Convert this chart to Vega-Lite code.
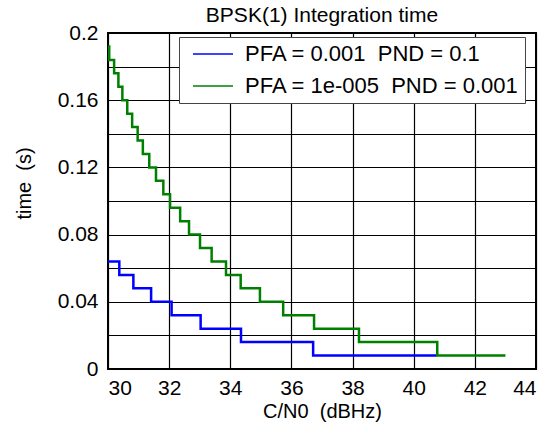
{
  "$schema": "https://vega.github.io/schema/vega-lite/v6.json",
  "width": 428,
  "height": 336,
  "autosize": {"type": "none"},
  "padding": {"left": 108, "top": 33, "right": 24, "bottom": 59},
  "background": "white",
  "title": {"text": "BPSK(1) Integration time", "font": "Liberation Sans", "fontSize": 21, "fontWeight": "normal", "color": "black", "offset": 0, "dy": 4, "anchor": "middle"},
  "config": {
    "font": "Liberation Sans",
    "view": {"stroke": "black", "strokeWidth": 2}
  },
  "data": {
    "values": [
      {"series": "PFA = 0.001\u00a0 PND = 0.1", "cn0": 30.0, "time": 0.064},
      {"series": "PFA = 0.001\u00a0 PND = 0.1", "cn0": 30.37, "time": 0.056},
      {"series": "PFA = 0.001\u00a0 PND = 0.1", "cn0": 30.83, "time": 0.048},
      {"series": "PFA = 0.001\u00a0 PND = 0.1", "cn0": 31.41, "time": 0.040},
      {"series": "PFA = 0.001\u00a0 PND = 0.1", "cn0": 32.08, "time": 0.032},
      {"series": "PFA = 0.001\u00a0 PND = 0.1", "cn0": 33.03, "time": 0.024},
      {"series": "PFA = 0.001\u00a0 PND = 0.1", "cn0": 34.35, "time": 0.016},
      {"series": "PFA = 0.001\u00a0 PND = 0.1", "cn0": 36.71, "time": 0.008},
      {"series": "PFA = 0.001\u00a0 PND = 0.1", "cn0": 40.75, "time": 0.008},
      {"series": "PFA = 1e-005\u00a0 PND = 0.001", "cn0": 30.0, "time": 0.192},
      {"series": "PFA = 1e-005\u00a0 PND = 0.001", "cn0": 30.04, "time": 0.184},
      {"series": "PFA = 1e-005\u00a0 PND = 0.001", "cn0": 30.20, "time": 0.176},
      {"series": "PFA = 1e-005\u00a0 PND = 0.001", "cn0": 30.34, "time": 0.168},
      {"series": "PFA = 1e-005\u00a0 PND = 0.001", "cn0": 30.47, "time": 0.160},
      {"series": "PFA = 1e-005\u00a0 PND = 0.001", "cn0": 30.63, "time": 0.152},
      {"series": "PFA = 1e-005\u00a0 PND = 0.001", "cn0": 30.79, "time": 0.144},
      {"series": "PFA = 1e-005\u00a0 PND = 0.001", "cn0": 30.97, "time": 0.136},
      {"series": "PFA = 1e-005\u00a0 PND = 0.001", "cn0": 31.14, "time": 0.128},
      {"series": "PFA = 1e-005\u00a0 PND = 0.001", "cn0": 31.35, "time": 0.120},
      {"series": "PFA = 1e-005\u00a0 PND = 0.001", "cn0": 31.57, "time": 0.112},
      {"series": "PFA = 1e-005\u00a0 PND = 0.001", "cn0": 31.81, "time": 0.104},
      {"series": "PFA = 1e-005\u00a0 PND = 0.001", "cn0": 32.03, "time": 0.096},
      {"series": "PFA = 1e-005\u00a0 PND = 0.001", "cn0": 32.36, "time": 0.088},
      {"series": "PFA = 1e-005\u00a0 PND = 0.001", "cn0": 32.65, "time": 0.080},
      {"series": "PFA = 1e-005\u00a0 PND = 0.001", "cn0": 33.01, "time": 0.072},
      {"series": "PFA = 1e-005\u00a0 PND = 0.001", "cn0": 33.39, "time": 0.064},
      {"series": "PFA = 1e-005\u00a0 PND = 0.001", "cn0": 33.86, "time": 0.056},
      {"series": "PFA = 1e-005\u00a0 PND = 0.001", "cn0": 34.34, "time": 0.048},
      {"series": "PFA = 1e-005\u00a0 PND = 0.001", "cn0": 34.97, "time": 0.040},
      {"series": "PFA = 1e-005\u00a0 PND = 0.001", "cn0": 35.73, "time": 0.032},
      {"series": "PFA = 1e-005\u00a0 PND = 0.001", "cn0": 36.74, "time": 0.024},
      {"series": "PFA = 1e-005\u00a0 PND = 0.001", "cn0": 38.21, "time": 0.016},
      {"series": "PFA = 1e-005\u00a0 PND = 0.001", "cn0": 40.77, "time": 0.008},
      {"series": "PFA = 1e-005\u00a0 PND = 0.001", "cn0": 43.0, "time": 0.008}
    ]
  },
  "mark": {"type": "line", "interpolate": "step-after", "strokeWidth": 2.5},
  "encoding": {
    "x": {
      "field": "cn0", "type": "quantitative",
      "scale": {"domain": [30, 44], "nice": false, "zero": false},
      "axis": {
        "values": [30, 32, 34, 36, 38, 40, 42, 44],
        "title": "C/N0\u00a0 (dBHz)",
        "titleFontSize": 20, "titleFontWeight": "normal", "titleColor": "black",
        "titleX": 214, "titleY": 42, "titleBaseline": "middle", "titleAlign": "center",
        "labelFontSize": 21, "labelColor": "black", "labelPadding": 8,
        "ticks": false, "domain": false,
        "grid": true, "gridColor": "black", "gridOpacity": 1, "gridWidth": 1.2
      }
    },
    "y": {
      "field": "time", "type": "quantitative",
      "scale": {"domain": [0, 0.2], "nice": false},
      "axis": {
        "values": [0, 0.02, 0.04, 0.06, 0.08, 0.1, 0.12, 0.14, 0.16, 0.18, 0.2],
        "labelExpr": "round(datum.value * 100) % 4 == 0 ? format(datum.value, '.2~f') : ''",
        "title": "time\u00a0 (s)",
        "titleFontSize": 20, "titleFontWeight": "normal", "titleColor": "black",
        "titleX": -84, "titleY": 150, "titleBaseline": "middle", "titleAlign": "center", "titleAngle": -90,
        "labelFontSize": 21, "labelColor": "black", "labelPadding": 10,
        "ticks": false, "domain": false,
        "grid": true, "gridColor": "black", "gridOpacity": 1, "gridWidth": 1.2
      }
    },
    "color": {
      "field": "series", "type": "nominal",
      "scale": {"domain": ["PFA = 0.001\u00a0 PND = 0.1", "PFA = 1e-005\u00a0 PND = 0.001"], "range": ["#0000ff", "#008000"]},
      "legend": {
        "title": null, "orient": "none", "legendX": 71, "legendY": 4,
        "symbolType": "M-0.3,0H3.7", "symbolSize": 400, "symbolStrokeWidth": 1.5,
        "labelFontSize": 22, "labelColor": "black", "labelLimit": 0, "labelOffset": 38,
        "padding": 6, "rowPadding": 10,
        "strokeColor": "#444444", "fillColor": "white", "cornerRadius": 0
      }
    }
  }
}
